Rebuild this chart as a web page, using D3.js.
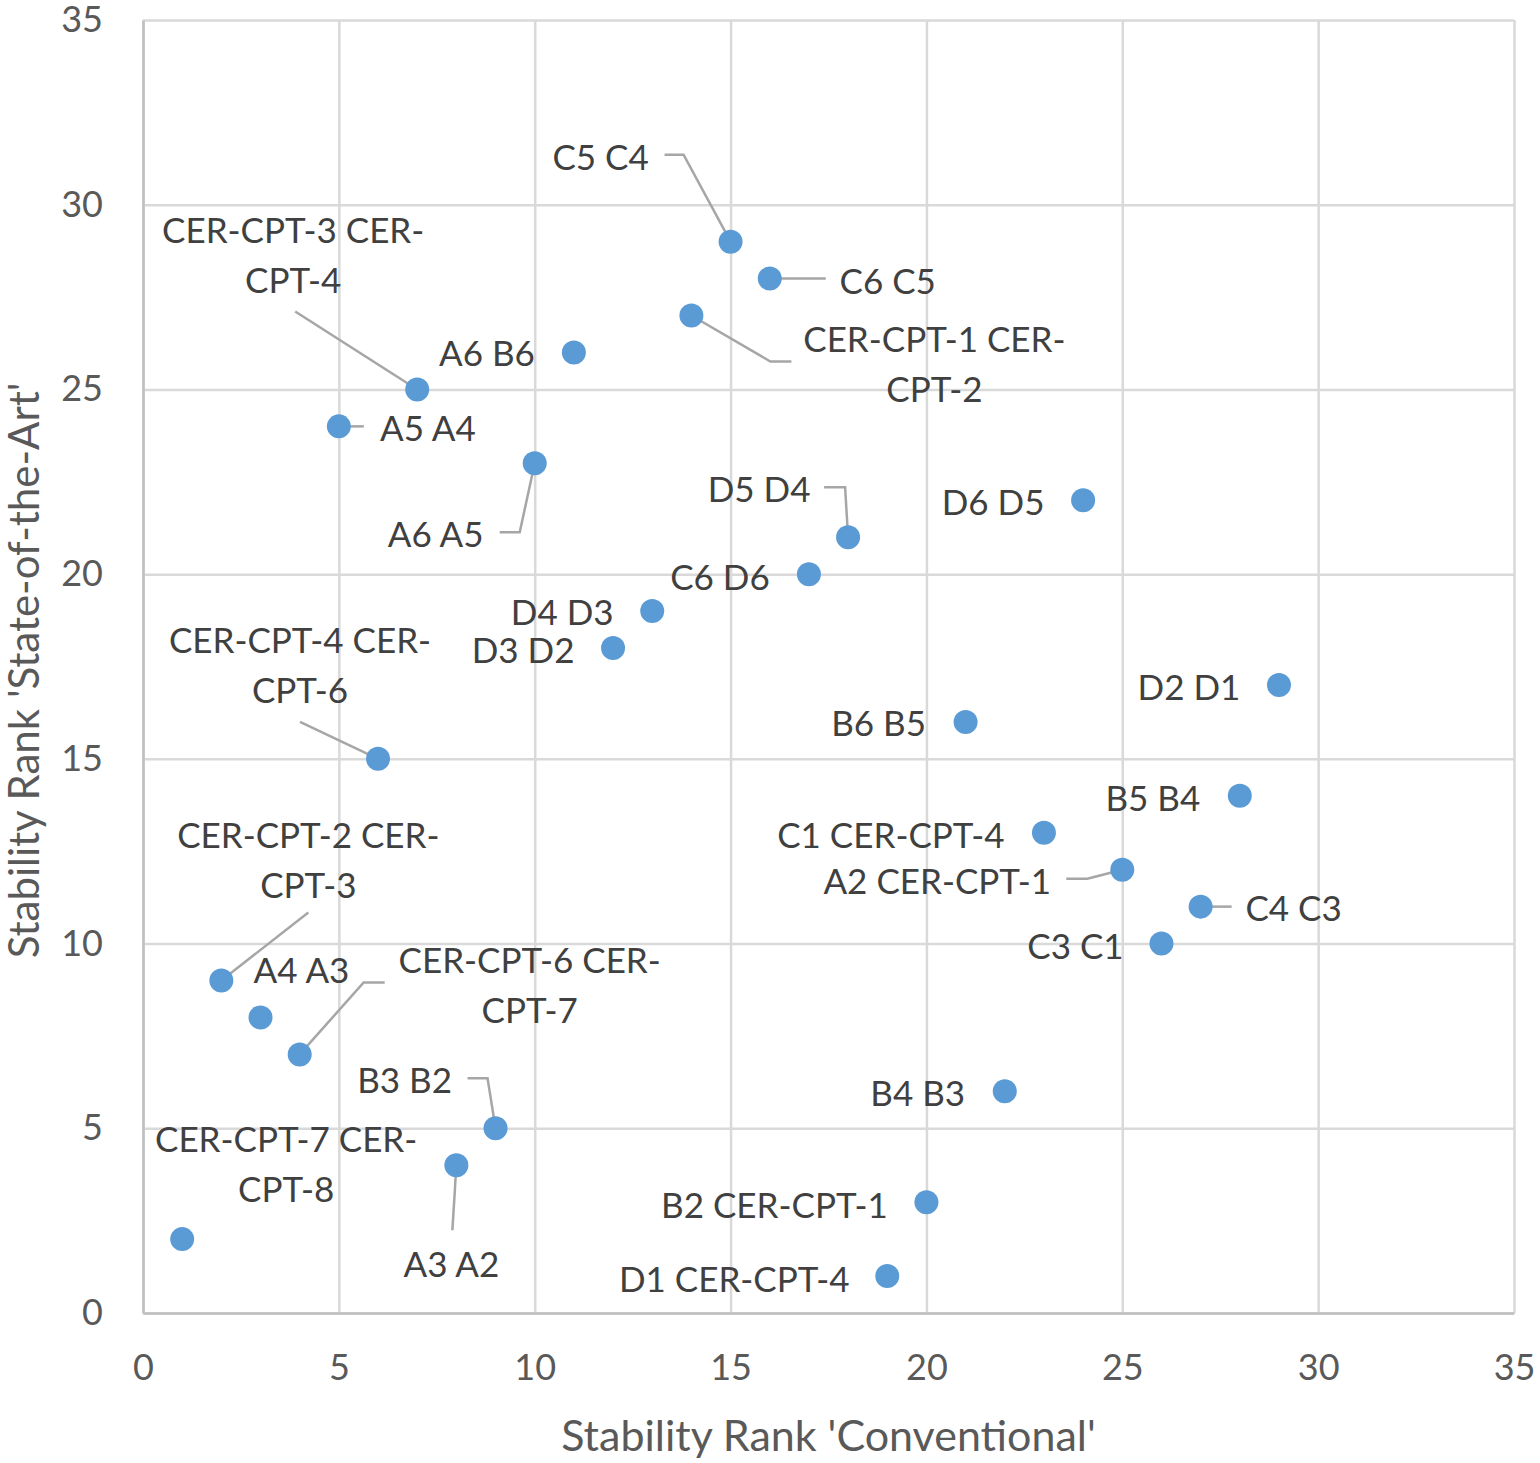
<!DOCTYPE html>
<html>
<head>
<meta charset="utf-8">
<script src="https://cdn.jsdelivr.net/npm/d3@7"></script>
<style>
  body { margin: 0; background: #fff; }
  svg { display: block; font-family: Lato, "Open Sans", sans-serif; }
</style>
</head>
<body>
<svg width="1540" height="1463"></svg>
<script>
// data
const names = [
  'C5 C4', 'C6 C5', 'CER-CPT-1 CER-CPT-2', 'A6 B6', 'CER-CPT-3 CER-CPT-4',
  'A5 A4', 'A6 A5', 'D6 D5', 'D5 D4', 'C6 D6', 'D4 D3', 'D3 D2', 'D2 D1',
  'B6 B5', 'CER-CPT-4 CER-CPT-6', 'B5 B4', 'C1 CER-CPT-4', 'A2 CER-CPT-1',
  'C4 C3', 'C3 C1', 'CER-CPT-2 CER-CPT-3', 'A4 A3', 'CER-CPT-6 CER-CPT-7',
  'B4 B3', 'B3 B2', 'A3 A2', 'B2 CER-CPT-1', 'CER-CPT-7 CER-CPT-8', 'D1 CER-CPT-4'
];
const conventional = [15, 16, 14, 11, 7, 5, 10, 24, 18, 17, 13, 12, 29, 21, 6, 28, 23, 25, 27, 26, 2, 3, 4, 22, 9, 8, 20, 1, 19];
const stateOfTheArt = [29, 28, 27, 26, 25, 24, 23, 22, 21, 20, 19, 18, 17, 16, 15, 14, 13, 12, 11, 10, 9, 8, 7, 6, 5, 4, 3, 2, 1];
const xTicks = [0, 5, 10, 15, 20, 25, 30, 35];
const yTicks = [0, 5, 10, 15, 20, 25, 30, 35];

// label placement (pixel offsets from the point), leader lines as offset paths
const labelLayout = [
  { dx: -130, dy: -85, leader: [[-66, -87], [-47, -87], [0, 0]] },
  { dx: 118, dy: 2, leader: [[0, 0], [56, 0]] },
  { dx: 243, dy: 48, leader: [[0, 0], [79, 46], [100, 46]] },
  { dx: -87, dy: 1 },
  { dx: -124, dy: -134, leader: [[-122, -78], [0, 0]] },
  { dx: 89, dy: 2, leader: [[0, 0], [25, 0]] },
  { dx: -99, dy: 71, leader: [[0, 0], [-15, 69], [-35, 69]] },
  { dx: -90, dy: 2 },
  { dx: -89, dy: -48, leader: [[-24, -50], [-3, -50], [0, 0]] },
  { dx: -89, dy: 3 },
  { dx: -90, dy: 1 },
  { dx: -90, dy: 2 },
  { dx: -90, dy: 2 },
  { dx: -87, dy: 1 },
  { dx: -78, dy: -94, leader: [[-78, -37], [0, 0]] },
  { dx: -87, dy: 2 },
  { dx: -153, dy: 2 },
  { dx: -185, dy: 11, leader: [[-56, 9], [-35, 9], [0, 0]] },
  { dx: 93, dy: 1, leader: [[0, 0], [31, 0]] },
  { dx: -86, dy: 2 },
  { dx: 87, dy: -121, leader: [[87, -68], [0, 0]] },
  { dx: 41, dy: -47 },
  { dx: 230, dy: -69, leader: [[0, 0], [64, -72], [85, -72]] },
  { dx: -87, dy: 2 },
  { dx: -91, dy: -48, leader: [[-28, -50], [-8, -50], [0, 0]] },
  { dx: -5, dy: 99, leader: [[0, 0], [-4, 65]] },
  { dx: -152, dy: 3 },
  { dx: 104, dy: -75 },
  { dx: -153, dy: 3 }
];

const svg = d3.select('svg');
const margin = { left: 143, top: 20, right: 26, bottom: 150 };
const width = 1540, height = 1463;

const x = d3.scaleLinear().domain([0, 35]).range([margin.left, width - margin.right]);
const y = d3.scaleLinear().domain([0, 35]).range([height - margin.bottom, margin.top]);

const points = names.map((n, i) => ({ name: n, x: conventional[i], y: stateOfTheArt[i], layout: labelLayout[i] }));

// gridlines
svg.append('g')
    .attr('transform', `translate(0,${y(0)})`)
    .call(d3.axisBottom(x).tickValues(xTicks).tickSize(-(y(0) - y(35))).tickFormat(''))
    .call(g => g.select('.domain').remove())
    .call(g => g.selectAll('line').attr('stroke', '#d9d9d9').attr('stroke-width', 2.5));

svg.append('g')
    .attr('transform', `translate(${x(0)},0)`)
    .call(d3.axisLeft(y).tickValues(yTicks).tickSize(-(x(35) - x(0))).tickFormat(''))
    .call(g => g.select('.domain').remove())
    .call(g => g.selectAll('line').attr('stroke', '#d9d9d9').attr('stroke-width', 2.5));

// axes
const xAxis = svg.append('g')
    .attr('transform', `translate(0,${y(0)})`)
    .call(d3.axisBottom(x).tickValues(xTicks).tickSize(0).tickPadding(41));
xAxis.select('.domain').attr('stroke', '#bfbfbf').attr('stroke-width', 2.5);

const yAxis = svg.append('g')
    .attr('transform', `translate(${x(0)},0)`)
    .call(d3.axisLeft(y).tickValues(yTicks).tickSize(0).tickPadding(40));
yAxis.select('.domain').attr('stroke', '#bfbfbf').attr('stroke-width', 2.5);

svg.selectAll('.tick text')
    .attr('font-family', 'Lato, sans-serif')
    .attr('font-size', 36)
    .attr('fill', '#595959');

// axis titles
svg.append('text')
    .attr('x', (x(0) + x(35)) / 2)
    .attr('y', 1451)
    .attr('text-anchor', 'middle')
    .attr('font-size', 43)
    .attr('fill', '#595959')
    .text("Stability Rank 'Conventional'");

svg.append('text')
    .attr('transform', `translate(39,${(y(0) + y(35)) / 2 + 4}) rotate(-90)`)
    .attr('text-anchor', 'middle')
    .attr('font-size', 42)
    .attr('fill', '#595959')
    .text("Stability Rank 'State-of-the-Art'");

// leader lines
const line = d3.line();
svg.append('g')
    .selectAll('path')
    .data(points.filter(d => d.layout.leader))
    .join('path')
    .attr('d', d => line(d.layout.leader.map(p => [x(d.x) + p[0], y(d.y) + p[1]])))
    .attr('fill', 'none')
    .attr('stroke', '#a6a6a6')
    .attr('stroke-width', 2.5);

// dots
svg.append('g')
    .selectAll('circle')
    .data(points)
    .join('circle')
    .attr('cx', d => x(d.x))
    .attr('cy', d => y(d.y))
    .attr('r', 12)
    .attr('fill', '#5b9bd5');

// labels, long CER pairs wrap after the second "CER-"
function wrap(name) {
  const i = name.lastIndexOf('CER-');
  if (i > 0 && name.indexOf('CER-') === 0) return [name.slice(0, i + 4), name.slice(i + 4)];
  return [name];
}

const labels = svg.append('g')
    .selectAll('text')
    .data(points)
    .join('text')
    .attr('text-anchor', 'middle')
    .attr('font-size', 35)
    .attr('fill', '#404040');

labels.each(function(d) {
  const lines = wrap(d.name);
  const cx = x(d.x) + d.layout.dx;
  const cy = y(d.y) + d.layout.dy;
  const lh = 50;
  d3.select(this).selectAll('tspan')
      .data(lines)
      .join('tspan')
      .attr('x', cx)
      .attr('y', (t, i) => cy + (i - (lines.length - 1) / 2) * lh + 13)
      .text(t => t);
});
</script>
</body>
</html>
